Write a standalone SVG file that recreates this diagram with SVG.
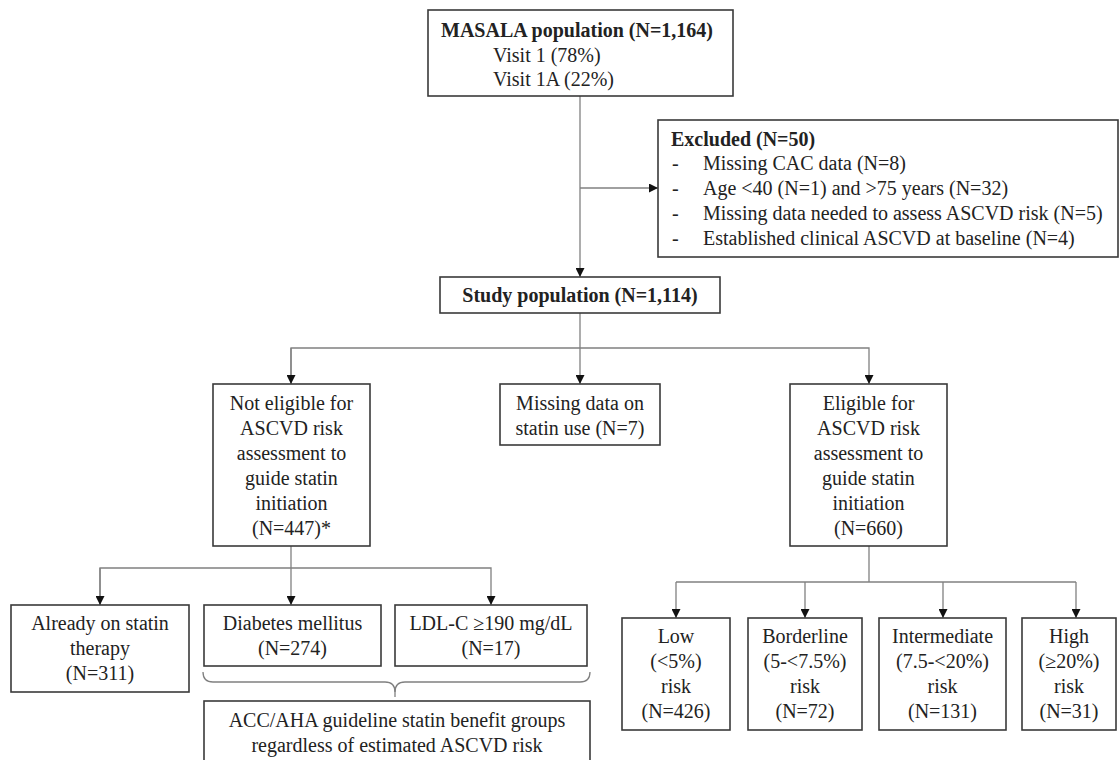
<svg xmlns="http://www.w3.org/2000/svg" width="1120" height="760" viewBox="0 0 1120 760">
<defs>
<marker id="arr" markerUnits="userSpaceOnUse" markerWidth="9" markerHeight="9" refX="9" refY="4.5" orient="auto">
<path d="M0,0 L9,4.5 L0,9 z" fill="#111"/>
</marker>
<style>
.box{fill:#fff;stroke:#3a3a3a;stroke-width:1.6}
.t{font-family:"Liberation Serif","Times New Roman",serif;font-size:20px;fill:#222}
.c{text-anchor:middle}
.b{font-weight:bold}
.ln{fill:none;stroke:#808080;stroke-width:1.3}
</style>
</defs>
<rect width="1120" height="760" fill="#fff"/>
<g id="connectors">
<line class="ln" x1="580" y1="96" x2="580" y2="277" marker-end="url(#arr)"/>
<line class="ln" x1="580" y1="188" x2="658" y2="188" marker-end="url(#arr)"/>
<line class="ln" x1="580" y1="313" x2="580" y2="384" marker-end="url(#arr)"/>
<polyline class="ln" points="291,384 291,348 869,348 869,384" marker-end="url(#arr)"/>
<line class="ln" x1="291" y1="348" x2="291" y2="384" marker-end="url(#arr)"/>
<line class="ln" x1="291" y1="546" x2="291" y2="605" marker-end="url(#arr)"/>
<polyline class="ln" points="100,605 100,568 491,568 491,605" marker-end="url(#arr)"/>
<line class="ln" x1="100" y1="568" x2="100" y2="605" marker-end="url(#arr)"/>
<line class="ln" x1="869" y1="546" x2="869" y2="582"/>
<line class="ln" x1="676" y1="582" x2="1076" y2="582"/>
<line class="ln" x1="676" y1="582" x2="676" y2="618" marker-end="url(#arr)"/>
<line class="ln" x1="805" y1="582" x2="805" y2="618" marker-end="url(#arr)"/>
<line class="ln" x1="943" y1="582" x2="943" y2="618" marker-end="url(#arr)"/>
<line class="ln" x1="1076" y1="582" x2="1076" y2="618" marker-end="url(#arr)"/>
<path class="ln" d="M203,672 Q203,682 213,682 L385,682 Q395,682 395,692 Q395,682 405,682 L580,682 Q590,682 590,672"/>
<line class="ln" x1="395" y1="688" x2="395" y2="697"/>
</g>
<g id="masala">
<rect class="box" x="428" y="10" width="305" height="86"/>
<text class="t b" x="441" y="37">MASALA population (N=1,164)</text>
<text class="t" x="493" y="62">Visit 1 (78%)</text>
<text class="t" x="493" y="86">Visit 1A (22%)</text>
</g>
<g id="excluded">
<rect class="box" x="658" y="120" width="460" height="137"/>
<text class="t b" x="671" y="146">Excluded (N=50)</text>
<text class="t" x="672" y="170">-</text><text class="t" x="703" y="170">Missing CAC data (N=8)</text>
<text class="t" x="672" y="195">-</text><text class="t" x="703" y="195">Age &lt;40 (N=1) and &gt;75 years (N=32)</text>
<text class="t" x="672" y="220">-</text><text class="t" x="703" y="220">Missing data needed to assess ASCVD risk (N=5)</text>
<text class="t" x="672" y="245">-</text><text class="t" x="703" y="245">Established clinical ASCVD at baseline (N=4)</text>
</g>
<g id="study">
<rect class="box" x="440" y="277" width="280" height="36"/>
<text class="t b c" x="580" y="302">Study population (N=1,114)</text>
</g>
<g id="noteligible">
<rect class="box" x="213" y="384" width="157" height="162"/>
<text class="t c" x="291.5" y="410">Not eligible for</text>
<text class="t c" x="291.5" y="435">ASCVD risk</text>
<text class="t c" x="291.5" y="460">assessment to</text>
<text class="t c" x="291.5" y="485">guide statin</text>
<text class="t c" x="291.5" y="510">initiation</text>
<text class="t c" x="291.5" y="535">(N=447)*</text>
</g>
<g id="missing">
<rect class="box" x="500" y="384" width="160" height="61"/>
<text class="t c" x="580" y="410">Missing data on</text>
<text class="t c" x="580" y="435">statin use (N=7)</text>
</g>
<g id="eligible">
<rect class="box" x="790" y="384" width="157" height="162"/>
<text class="t c" x="868.5" y="410">Eligible for</text>
<text class="t c" x="868.5" y="435">ASCVD risk</text>
<text class="t c" x="868.5" y="460">assessment to</text>
<text class="t c" x="868.5" y="485">guide statin</text>
<text class="t c" x="868.5" y="510">initiation</text>
<text class="t c" x="868.5" y="535">(N=660)</text>
</g>
<g id="already">
<rect class="box" x="11" y="605" width="178" height="87"/>
<text class="t c" x="100" y="630">Already on statin</text>
<text class="t c" x="100" y="655">therapy</text>
<text class="t c" x="100" y="680">(N=311)</text>
</g>
<g id="diabetes">
<rect class="box" x="204" y="605" width="177" height="61"/>
<text class="t c" x="292.5" y="630">Diabetes mellitus</text>
<text class="t c" x="292.5" y="655">(N=274)</text>
</g>
<g id="ldl">
<rect class="box" x="395" y="605" width="192" height="61"/>
<text class="t c" x="491" y="630">LDL-C ≥190 mg/dL</text>
<text class="t c" x="491" y="655">(N=17)</text>
</g>
<g id="acc">
<rect class="box" x="204" y="701" width="386" height="70"/>
<text class="t c" x="397" y="727">ACC/AHA guideline statin benefit groups</text>
<text class="t c" x="397" y="752">regardless of estimated ASCVD risk</text>
</g>
<g id="low">
<rect class="box" x="622" y="618" width="108" height="112"/>
<text class="t c" x="676" y="643">Low</text>
<text class="t c" x="676" y="668">(&lt;5%)</text>
<text class="t c" x="676" y="693">risk</text>
<text class="t c" x="676" y="718">(N=426)</text>
</g>
<g id="borderline">
<rect class="box" x="748" y="618" width="114" height="112"/>
<text class="t c" x="805" y="643">Borderline</text>
<text class="t c" x="805" y="668">(5-&lt;7.5%)</text>
<text class="t c" x="805" y="693">risk</text>
<text class="t c" x="805" y="718">(N=72)</text>
</g>
<g id="intermediate">
<rect class="box" x="879" y="618" width="127" height="112"/>
<text class="t c" x="942.5" y="643">Intermediate</text>
<text class="t c" x="942.5" y="668">(7.5-&lt;20%)</text>
<text class="t c" x="942.5" y="693">risk</text>
<text class="t c" x="942.5" y="718">(N=131)</text>
</g>
<g id="high">
<rect class="box" x="1022" y="618" width="94" height="112"/>
<text class="t c" x="1069" y="643">High</text>
<text class="t c" x="1069" y="668">(≥20%)</text>
<text class="t c" x="1069" y="693">risk</text>
<text class="t c" x="1069" y="718">(N=31)</text>
</g>
</svg>
